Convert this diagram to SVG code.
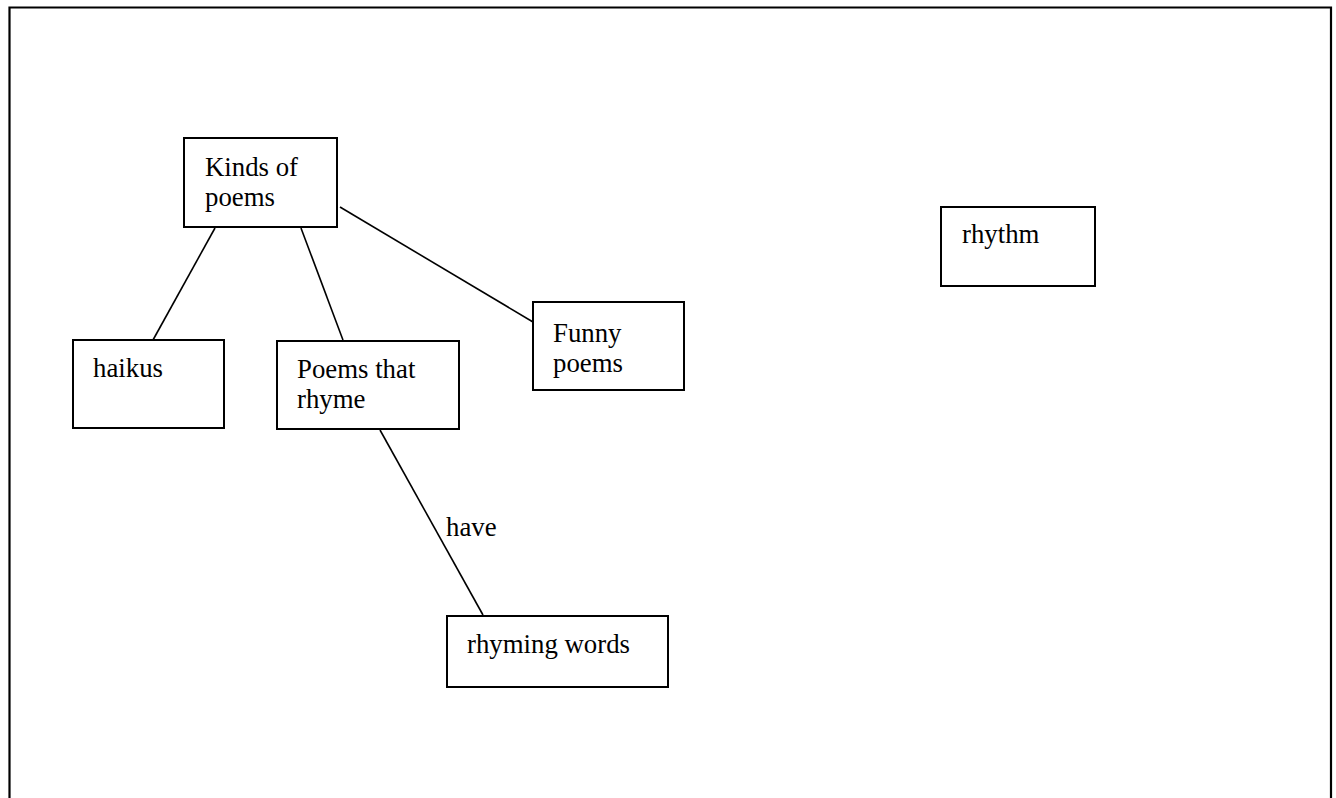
<svg xmlns="http://www.w3.org/2000/svg" width="1336" height="798" viewBox="0 0 1336 798">
  <style>
    .box { fill: #ffffff; stroke: #000000; stroke-width: 2; }
    .link { stroke: #000000; stroke-width: 1.6; fill: none; }
    .frame { stroke: #000000; stroke-width: 2.2; fill: none; }
    text { font-family: "Liberation Serif", "Times New Roman", serif; font-size: 26.8px; fill: #000000; }
  </style>
  <rect width="1336" height="798" fill="#ffffff"/>
  <!-- page border, open at the bottom -->
  <path class="frame" d="M 9.5 798 L 9.5 7.5 L 1331 7.5 L 1331 798"/>

  <g id="connectors">
    <line class="link" x1="215" y1="228" x2="153" y2="340"/>
    <line class="link" x1="301" y1="228" x2="343" y2="340"/>
    <line class="link" x1="340" y1="207" x2="533" y2="322"/>
    <line class="link" x1="380" y1="430" x2="483" y2="615"/>
    <text x="446" y="536">have</text>
  </g>

  <g id="kinds-of-poems">
    <rect class="box" x="184" y="138" width="153" height="89"/>
    <text x="205" y="176">Kinds of</text>
    <text x="205" y="206">poems</text>
  </g>

  <g id="haikus">
    <rect class="box" x="73" y="340" width="151" height="88"/>
    <text x="93" y="377">haikus</text>
  </g>

  <g id="poems-that-rhyme">
    <rect class="box" x="277" y="341" width="182" height="88"/>
    <text x="297" y="378">Poems that</text>
    <text x="297" y="408">rhyme</text>
  </g>

  <g id="funny-poems">
    <rect class="box" x="533" y="302" width="151" height="88"/>
    <text x="553" y="342">Funny</text>
    <text x="553" y="372">poems</text>
  </g>

  <g id="rhythm">
    <rect class="box" x="941" y="207" width="154" height="79"/>
    <text x="962" y="243">rhythm</text>
  </g>

  <g id="rhyming-words">
    <rect class="box" x="447" y="616" width="221" height="71"/>
    <text x="467" y="653">rhyming words</text>
  </g>
</svg>
